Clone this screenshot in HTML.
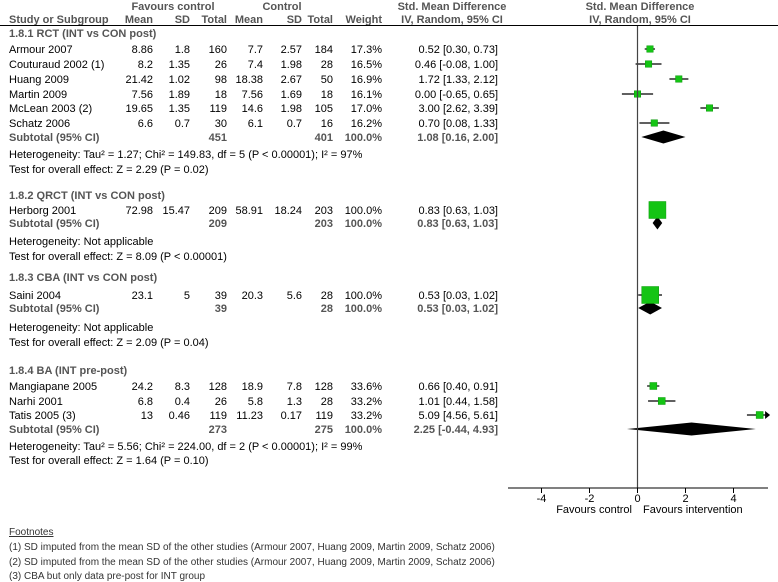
<!DOCTYPE html>
<html><head><meta charset="utf-8"><style>
html,body{margin:0;padding:0;background:#fff;}
svg{display:block;font-family:"Liberation Sans",Arial,sans-serif;}
.t{font-size:11px;fill:#000;}
.b{font-size:11px;font-weight:bold;fill:#555;}
.f{font-size:10px;fill:#333;}
</style></head><body>
<svg id="plot" width="778" height="582" viewBox="0 0 778 582">
<g>
<text class="b" x="173" y="10" text-anchor="middle">Favours control</text>
<text class="b" x="282" y="10" text-anchor="middle">Control</text>
<text class="b" x="452" y="10" text-anchor="middle">Std. Mean Difference</text>
<text class="b" x="640" y="10" text-anchor="middle">Std. Mean Difference</text>
<text class="b" x="9" y="23">Study or Subgroup</text>
<text class="b" x="153" y="23" text-anchor="end">Mean</text>
<text class="b" x="190" y="23" text-anchor="end">SD</text>
<text class="b" x="227" y="23" text-anchor="end">Total</text>
<text class="b" x="263" y="23" text-anchor="end">Mean</text>
<text class="b" x="302" y="23" text-anchor="end">SD</text>
<text class="b" x="333" y="23" text-anchor="end">Total</text>
<text class="b" x="382" y="23" text-anchor="end">Weight</text>
<text class="b" x="452" y="23" text-anchor="middle">IV, Random, 95% CI</text>
<text class="b" x="640" y="23" text-anchor="middle">IV, Random, 95% CI</text>
<line x1="0" y1="25.5" x2="778" y2="25.5" stroke="#000" stroke-width="1"/>
</g>
<g id="rows"></g>
<g id="axis"></g>
<g>
<text class="f" x="9" y="535" text-decoration="underline">Footnotes</text>
<text class="f" x="9" y="550">(1) SD imputed from the mean SD of the other studies (Armour 2007, Huang 2009, Martin 2009, Schatz 2006)</text>
<text class="f" x="9" y="565">(2) SD imputed from the mean SD of the other studies (Armour 2007, Huang 2009, Martin 2009, Schatz 2006)</text>
<text class="f" x="9" y="579">(3) CBA but only data pre-post for INT group</text>
</g>
</svg>
<script>
// study data
const studyNames = ["Armour 2007","Couturaud 2002 (1)","Huang 2009","Martin 2009","McLean 2003 (2)","Schatz 2006","Herborg 2001","Saini 2004","Mangiapane 2005","Narhi 2001","Tatis 2005 (3)"];
const studyGroup = [0,0,0,0,0,0,1,2,3,3,3];
const mean1 = ["8.86","8.2","21.42","7.56","19.65","6.6","72.98","23.1","24.2","6.8","13"];
const sd1 = ["1.8","1.35","1.02","1.89","1.35","0.7","15.47","5","8.3","0.4","0.46"];
const n1 = ["160","26","98","18","119","30","209","39","128","26","119"];
const mean2 = ["7.7","7.4","18.38","7.56","14.6","6.1","58.91","20.3","18.9","5.8","11.23"];
const sd2 = ["2.57","1.98","2.67","1.69","1.98","0.7","18.24","5.6","7.8","1.3","0.17"];
const n2 = ["184","28","50","18","105","16","203","28","128","28","119"];
const weights = [17.3,16.5,16.9,16.1,17.0,16.2,100.0,100.0,33.6,33.2,33.2];
const smd = [0.52,0.46,1.72,0.00,3.00,0.70,0.83,0.53,0.66,1.01,5.09];
const ciLow = [0.30,-0.08,1.33,-0.65,2.62,0.08,0.63,0.03,0.40,0.44,4.56];
const ciHigh = [0.73,1.00,2.12,0.65,3.39,1.33,1.03,1.02,0.91,1.58,5.61];
const studyRowY = [49,64,79,94,108,123,210,295,386,401,415];
// subgroup data
const groupTitles = ["1.8.1 RCT (INT vs CON post)","1.8.2 QRCT (INT vs CON post)","1.8.3 CBA (INT vs CON post)","1.8.4 BA (INT pre-post)"];
const groupN1 = ["451","209","39","273"];
const groupN2 = ["401","203","28","275"];
const groupSmd = [1.08,0.83,0.53,2.25];
const groupLow = [0.16,0.63,0.03,-0.44];
const groupHigh = [2.00,1.03,1.02,4.93];
const groupHetero = ["Heterogeneity: Tau² = 1.27; Chi² = 149.83, df = 5 (P < 0.00001); I² = 97%","Heterogeneity: Not applicable","Heterogeneity: Not applicable","Heterogeneity: Tau² = 5.56; Chi² = 224.00, df = 2 (P < 0.00001); I² = 99%"];
const groupTest = ["Test for overall effect: Z = 2.29 (P = 0.02)","Test for overall effect: Z = 8.09 (P < 0.00001)","Test for overall effect: Z = 2.09 (P = 0.04)","Test for overall effect: Z = 1.64 (P = 0.10)"];
const groupTitleY = [33,195,277,370];
const groupSubY = [137,223,308,429];
const groupHetY = [154,241,327,446];
const groupTestY = [169,256,342,460];
// axis
const tickValues = [-4,-2,0,2,4];
const tickLabels = ["-4","-2","0","2","4"];
const axisMin = -5.4, axisMax = 5.4;

const NS="http://www.w3.org/2000/svg";
const x0 = 637.5, unit = 24;
function xs(v){ return x0 + v*unit; }
const clampX = v => xs(Math.max(axisMin, Math.min(axisMax, v)));
const rows=document.getElementById('rows'), axis=document.getElementById('axis');
function el(tag, attrs, parent, txt){
  const e=document.createElementNS(NS,tag);
  for(const k in attrs) e.setAttribute(k, attrs[k]);
  if(txt!==undefined) e.textContent=txt;
  parent.appendChild(e); return e;
}
function fmt(v){ return v.toFixed(2); }
function ciText(m,l,h){ return fmt(m)+" ["+fmt(l)+", "+fmt(h)+"]"; }

// subgroups
for(let g=0; g<groupTitles.length; g++){
  let e;
  e=el('text',{class:'b',x:9,y:groupTitleY[g]+4},rows,groupTitles[g]);
  
  
  const sy=groupSubY[g]+4;
  e=el('text',{class:'b',x:9,y:sy},rows,"Subtotal (95% CI)");
  
  
  e=el('text',{class:'b',x:227,y:sy,'text-anchor':'end'},rows,groupN1[g]);
  
  
  e=el('text',{class:'b',x:333,y:sy,'text-anchor':'end'},rows,groupN2[g]);
  
  
  e=el('text',{class:'b',x:382,y:sy,'text-anchor':'end'},rows,"100.0%");
  
  
  e=el('text',{class:'b',x:498,y:sy,'text-anchor':'end'},rows,ciText(groupSmd[g],groupLow[g],groupHigh[g]));
  
  
  e=el('text',{class:'t',x:9,y:groupHetY[g]+4},rows,groupHetero[g]);
  
  
  e=el('text',{class:'t',x:9,y:groupTestY[g]+4},rows,groupTest[g]);
  
  
  const cy=groupSubY[g], h=6.5;
  const pts=[clampX(groupLow[g])+","+cy, xs(groupSmd[g])+","+(cy-h), clampX(groupHigh[g])+","+cy, xs(groupSmd[g])+","+(cy+h)].join(" ");
  e=el('polygon',{points:pts,fill:'#000'},rows);
  
  
}

// studies
const colsX=[153,190,227,263,302,333];
for(let i=0;i<studyNames.length;i++){
  const y=studyRowY[i], ty=y+4;
  let e=el('text',{class:'t',x:9,y:ty},rows,studyNames[i]);
  
  
  const vals=[mean1[i],sd1[i],n1[i],mean2[i],sd2[i],n2[i]];
  for(let c=0;c<6;c++){
    e=el('text',{class:'t',x:colsX[c],y:ty,'text-anchor':'end'},rows,vals[c]);
    
    
  }
  e=el('text',{class:'t',x:382,y:ty,'text-anchor':'end'},rows,weights[i].toFixed(1)+"%");
  
  
  e=el('text',{class:'t',x:498,y:ty,'text-anchor':'end'},rows,ciText(smd[i],ciLow[i],ciHigh[i]));
  
  
  const xl=clampX(ciLow[i]), xh=clampX(ciHigh[i]);
  e=el('line',{x1:xl,y1:y,x2:xh,y2:y,stroke:'#000','stroke-width':1.2},rows);
  
  
  if(ciHigh[i]>axisMax){
    e=el('polygon',{points:(xh+3)+","+y+" "+(xh-2)+","+(y-4)+" "+(xh-2)+","+(y+4),fill:'#000'},rows);
    
    
  }
  const s = weights[i]>=99 ? 17 : (weights[i]>30 ? 7 : 6.5);
  e=el('rect',{x:xs(smd[i])-s/2,y:y-s/2,width:s,height:s,fill:'#14c414',stroke:'#0a9a0a','stroke-width':0.5},rows);
  
  
}

// axis
let a=el('line',{x1:x0,y1:26,x2:x0,y2:488,stroke:'#444','stroke-width':1.2},axis);


a=el('line',{x1:508,y1:488,x2:768,y2:488,stroke:'#000','stroke-width':1},axis);


for(let k=0;k<tickValues.length;k++){
  const tx=xs(tickValues[k]);
  a=el('line',{x1:tx,y1:488,x2:tx,y2:493,stroke:'#000'},axis);
  
  
  a=el('text',{class:'t',x:tx,y:502,'text-anchor':'middle'},axis,tickLabels[k]);
  
  
}
a=el('text',{class:'t',x:632,y:513,'text-anchor':'end',fill:'#222'},axis,"Favours control");


a=el('text',{class:'t',x:643,y:513,fill:'#222'},axis,"Favours intervention");


</script>
</body></html>
